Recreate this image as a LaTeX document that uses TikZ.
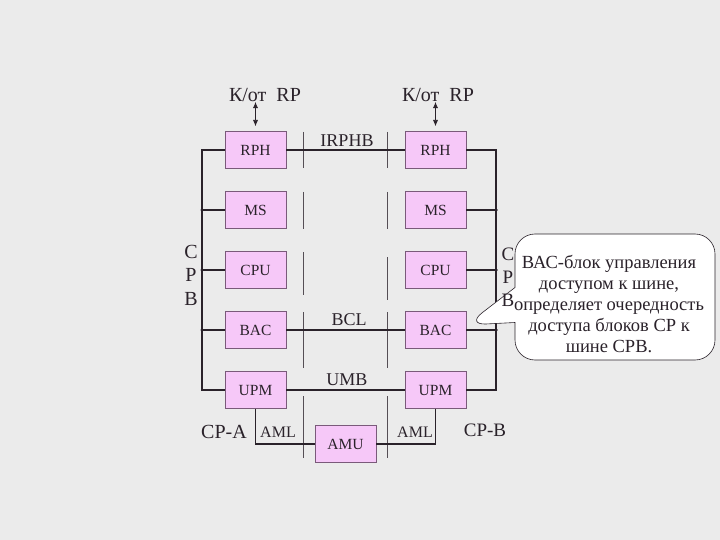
\documentclass[tikz,border=0pt]{standalone}
\usepackage{fontspec}
\setmainfont{Liberation Serif}
\usetikzlibrary{arrows.meta,shapes.callouts}

\definecolor{bgray}{HTML}{EBEBEB}
\definecolor{boxpink}{HTML}{F6C8F8}
\definecolor{boxline}{HTML}{7A5A7A}
\definecolor{inkdark}{HTML}{2A222A}

\begin{document}
\begin{tikzpicture}[x=1pt,y=-1pt]

    \tikzstyle{unit}+=[
        draw=boxline,
        line width = 0.5pt,
        fill=boxpink,
        minimum width=61pt,
        minimum height=37pt,
        inner sep=0pt,
        text=inkdark,
        font=\fontsize{15.5}{15.5}\selectfont
    ]
    \tikzstyle{bus}+=[
        line width = 1.4pt,
        draw=inkdark
    ]
    \tikzstyle{divider}+=[
        line width = 0.6pt,
        draw=inkdark!80
    ]
    \tikzstyle{tap}+=[
        circle,
        fill=inkdark,
        inner sep=0pt,
        minimum size=3.5pt
    ]
    \tikzstyle{txt}+=[
        inner sep=0pt,
        text=inkdark,
        font=\fontsize{18}{18}\selectfont
    ]
    \tikzstyle{darrow}+=[
        {Latex[length=2.2mm,width=1.8mm]}-{Latex[length=2.2mm,width=1.8mm]},
        line width = 0.7pt,
        draw=inkdark
    ]

    % ----------------------------------------------------------------------------
    \fill[bgray] (0,0) rectangle (720,540);
    \useasboundingbox (0,0) rectangle (720,540);

    % ----------------------------------------------------------------------------
    \node[unit] (lRPH) at (255.5,150) {RPH};
    \node[unit] (lMS)  at (255.5,210) {MS};
    \node[unit] (lCPU) at (255.5,270) {CPU};
    \node[unit] (lBAC) at (255.5,330) {BAC};
    \node[unit] (lUPM) at (255.5,390) {UPM};
    \node[unit] (rRPH) at (435.5,150) {RPH};
    \node[unit] (rMS)  at (435.5,210) {MS};
    \node[unit] (rCPU) at (435.5,270) {CPU};
    \node[unit] (rBAC) at (435.5,330) {BAC};
    \node[unit] (rUPM) at (435.5,390) {UPM};
    \node[unit] (AMU)  at (345.5,444) {AMU};

    % ----------------------------------------------------------------------------
    \foreach \ya/\yb in {132/168,192/229,252/295,312/368,396/458}
        \draw[divider] (303,\ya) -- (303,\yb);
    \foreach \ya/\yb in {132/168,192/229,257/300,312/368,396/458}
        \draw[divider] (387,\ya) -- (387,\yb);

    % ----------------------------------------------------------------------------
    \coordinate (lbtop) at (202,150);
    \coordinate (lbbot) at (202,390);
    \coordinate (rbtop) at (496,150);
    \coordinate (rbbot) at (496,390);
    \draw[bus] (lRPH.west) -- (lbtop) -- (lbbot) -- (lUPM.west);
    \draw[bus] (rRPH.east) -- (rbtop) -- (rbbot) -- (rUPM.east);
    \foreach \u in {lMS,lCPU,lBAC} {
        \draw[bus] (\u.west) -- (\u.west -| lbtop);
        \node[tap] at (\u.west -| lbtop) {};
    }
    \foreach \u in {rMS,rCPU,rBAC} {
        \draw[bus] (\u.east) -- (\u.east -| rbtop);
        \node[tap] at (\u.east -| rbtop) {};
    }

    % ----------------------------------------------------------------------------
    \draw[bus] (lRPH.east) -- (rRPH.west);
    \draw[bus] (lBAC.east) -- (rBAC.west);
    \draw[bus] (lUPM.east) -- (rUPM.west);
    \draw[bus] (lUPM.south) |- (AMU.west);
    \draw[bus] (rUPM.south) |- (AMU.east);

    % ----------------------------------------------------------------------------
    \node[txt,font=\fontsize{20}{20}\selectfont] (lRP) at (265,95) {К/от\ \ RP};
    \node[txt,font=\fontsize{20}{20}\selectfont] (rRP) at (438,95) {К/от\ \ RP};
    \draw[darrow,shorten <=0pt,shorten >=5pt] (lRP.south -| lRPH.north) -- (lRPH.north);
    \draw[darrow,shorten <=0pt,shorten >=5pt] (rRP.south -| rRPH.north) -- (rRPH.north);

    \node[txt] (irphb) at (347,141) {IRPHB};
    \node[txt] (bcl)   at (349,320) {BCL};
    \node[txt] (umb)   at (347,380) {UMB};
    \node[txt,font=\fontsize{16}{16}\selectfont] (lAML) at (278,432) {AML};
    \node[txt,font=\fontsize{16}{16}\selectfont] (rAML) at (415,432) {AML};
    \node[txt,font=\fontsize{20}{20}\selectfont] (cpa) at (224,432) {CP-A};
    \node[txt,font=\fontsize{19}{19}\selectfont] (cpb) at (485,430) {CP-B};
    \node[txt,align=center,font=\fontsize{20}{23.5}\selectfont] (lCPB) at (191,275) {С\\Р\\В};

    % ----------------------------------------------------------------------------
    \node[rectangle callout,draw=inkdark,line width=0.6pt,fill=white,
          rounded corners=20pt,minimum width=200pt,minimum height=126pt,
          inner sep=0pt,
          callout absolute pointer={([yshift=5pt]rBAC.east)},
          callout pointer width=35pt] (note) at (615,297) {};
    \node[txt,align=center,font=\fontsize{19}{23}\selectfont] (rCPB) at (508,277) {С\\Р\\В};
    \node[txt,align=center,font=\fontsize{18.5}{21.2}\selectfont] (notetxt) at (609,304)
        {ВАС-блок управления\\доступом к шине,\\определяет очередность\\доступа блоков СР к\\шине СРВ.};

\end{tikzpicture}
\end{document}
